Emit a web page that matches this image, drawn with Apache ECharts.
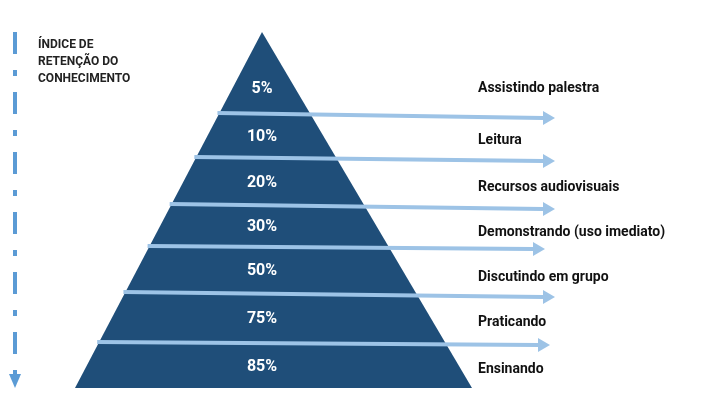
<!DOCTYPE html>
<html><head><meta charset="utf-8">
<script src="https://cdn.jsdelivr.net/npm/echarts@6/dist/echarts.min.js"></script>
<style>html,body{margin:0;background:#fff}#chart{width:705px;height:406px}</style>
</head><body><div id="chart"></div>
<script>
var percents = ['5%', '10%', '20%', '30%', '50%', '75%', '85%'];
var activities = ['Assistindo palestra', 'Leitura', 'Recursos audiovisuais', 'Demonstrando (uso imediato)', 'Discutindo em grupo', 'Praticando', 'Ensinando'];
// level boundaries (y on the drawing axis), apex first, base last
var bounds = [32, 113, 157, 204, 246, 292, 342, 388];
var labelY = [88, 140, 187, 232, 277, 322, 369];
var arrowEndY = [118, 161, 209, 249, 297, 345];
var arrowEndX = [555, 555, 555, 545, 555, 550];

var apex = [262, 32], baseL = [75, 388], baseR = [472, 388];
function leftX(y) { return apex[0] + (baseL[0] - apex[0]) * (y - apex[1]) / (baseL[1] - apex[1]); }

var chart = echarts.init(document.getElementById('chart'));
var option = {
    animation: false,
    grid: { left: 0, right: 0, top: 0, bottom: 0 },
    xAxis: { type: 'value', min: 0, max: 705, show: false },
    yAxis: { type: 'value', min: 0, max: 406, inverse: true, show: false },
    series: [{
        type: 'custom',
        data: percents.map(function (p, i) { return [i]; }),
        renderItem: function (params, api) {
            var i = api.value(0);
            var children = [];
            if (i === 0) {
                children.push({
                    type: 'polygon',
                    shape: { points: [api.coord(apex), api.coord(baseL), api.coord(baseR)] },
                    style: { fill: '#1f4e79' }
                });
            }
            var midY = (bounds[i] + bounds[i + 1]) / 2 + (i === 0 ? 16 : 2);
            var c = api.coord([262, midY]);
            children.push({ type: 'text', x: c[0], y: c[1], style: { text: percents[i], fill: '#fff', font: 'bold 16px Roboto, sans-serif', align: 'center', verticalAlign: 'middle' } });
            var t = api.coord([478, labelY[i]]);
            children.push({ type: 'text', x: t[0], y: t[1], style: { text: activities[i], fill: '#111', font: 'bold 14px Roboto, sans-serif', align: 'left', verticalAlign: 'middle' } });
            if (i < arrowEndY.length) {
                var y0 = bounds[i + 1];
                var p0 = api.coord([leftX(y0) - 2, y0]);
                var p1 = api.coord([arrowEndX[i] - 12, arrowEndY[i]]);
                var p2 = api.coord([arrowEndX[i], arrowEndY[i]]);
                children.push({ type: 'line', shape: { x1: p0[0], y1: p0[1], x2: p1[0], y2: p1[1] }, style: { stroke: '#9dc3e6', lineWidth: 4 } });
                children.push({ type: 'polygon', shape: { points: [[p1[0], p1[1] - 7], [p2[0], p2[1]], [p1[0], p1[1] + 7]] }, style: { fill: '#9dc3e6' } });
            }
            if (i === 0) {
                var a0 = api.coord([15, 32]), a1 = api.coord([15, 374]), a2 = api.coord([15, 388]);
                children.push({ type: 'line', shape: { x1: a0[0], y1: a0[1], x2: a1[0], y2: a1[1] }, style: { stroke: '#5b9bd5', lineWidth: 4, lineDash: [22, 16, 6, 16] } });
                children.push({ type: 'polygon', shape: { points: [[a1[0] - 6, a1[1]], [a2[0], a2[1]], [a1[0] + 6, a1[1]]] }, style: { fill: '#5b9bd5' } });
                var tt = api.coord([38, 36]);
                children.push({ type: 'text', x: tt[0], y: tt[1], style: { text: 'ÍNDICE DE\nRETENÇÃO DO\nCONHECIMENTO', fill: '#222', font: 'bold 12px Roboto, sans-serif', lineHeight: 17 } });
            }
            return { type: 'group', children: children };
        }
    }]
};
chart.setOption(option);
</script></body></html>
